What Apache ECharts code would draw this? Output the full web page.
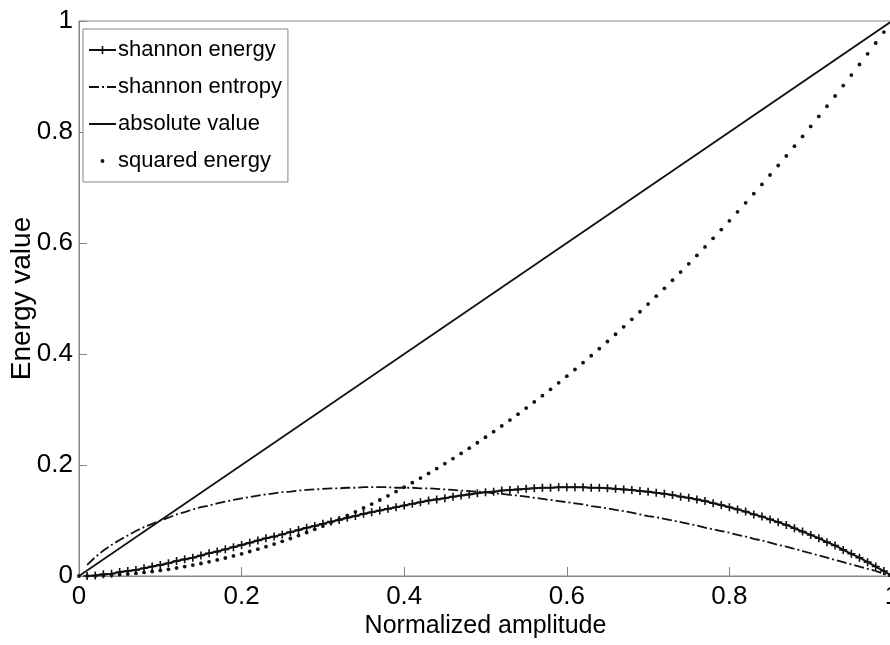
<!DOCTYPE html>
<html>
<head>
<meta charset="utf-8">
<script src="https://cdn.jsdelivr.net/npm/echarts@6/dist/echarts.min.js"></script>
<style>html,body{margin:0;padding:0;background:#fff;}#c{width:890px;height:645px;}</style>
</head>
<body>
<div id="c"></div>
<script>
// Normalized amplitude samples (x)
var amplitude = [0,0.01,0.02,0.03,0.04,0.05,0.06,0.07,0.08,0.09,0.10,
0.11,0.12,0.13,0.14,0.15,0.16,0.17,0.18,0.19,0.20,
0.21,0.22,0.23,0.24,0.25,0.26,0.27,0.28,0.29,0.30,
0.31,0.32,0.33,0.34,0.35,0.36,0.37,0.38,0.39,0.40,
0.41,0.42,0.43,0.44,0.45,0.46,0.47,0.48,0.49,0.50,
0.51,0.52,0.53,0.54,0.55,0.56,0.57,0.58,0.59,0.60,
0.61,0.62,0.63,0.64,0.65,0.66,0.67,0.68,0.69,0.70,
0.71,0.72,0.73,0.74,0.75,0.76,0.77,0.78,0.79,0.80,
0.81,0.82,0.83,0.84,0.85,0.86,0.87,0.88,0.89,0.90,
0.91,0.92,0.93,0.94,0.95,0.96,0.97,0.98,0.99,1.00];

var shannonEnergy = [null,0.000,0.001,0.003,0.004,0.007,0.009,0.011,0.014,0.017,0.020,
0.023,0.027,0.030,0.033,0.037,0.041,0.044,0.048,0.052,0.056,
0.060,0.064,0.068,0.071,0.075,0.079,0.083,0.087,0.090,0.094,
0.098,0.101,0.105,0.108,0.112,0.115,0.118,0.121,0.124,0.127,
0.130,0.133,0.136,0.138,0.140,0.143,0.145,0.147,0.149,0.151,
0.152,0.154,0.155,0.156,0.157,0.158,0.159,0.159,0.160,0.160,
0.160,0.160,0.159,0.159,0.158,0.157,0.156,0.155,0.153,0.152,
0.150,0.148,0.146,0.143,0.141,0.138,0.135,0.131,0.128,0.124,
0.120,0.116,0.111,0.107,0.102,0.097,0.092,0.086,0.080,0.074,
0.068,0.061,0.055,0.047,0.040,0.033,0.025,0.017,0.009,0.000];

var shannonEntropy = [null,0.020,0.034,0.046,0.056,0.065,0.073,0.081,0.088,0.094,0.100,
0.105,0.111,0.115,0.120,0.124,0.127,0.131,0.134,0.137,0.140,
0.142,0.145,0.147,0.149,0.151,0.152,0.154,0.155,0.156,0.157,
0.158,0.158,0.159,0.159,0.160,0.160,0.160,0.160,0.159,0.159,
0.159,0.158,0.158,0.157,0.156,0.155,0.154,0.153,0.152,0.151,
0.149,0.148,0.146,0.145,0.143,0.141,0.139,0.137,0.135,0.133,
0.131,0.129,0.126,0.124,0.122,0.119,0.117,0.114,0.111,0.108,
0.106,0.103,0.100,0.097,0.094,0.091,0.087,0.084,0.081,0.078,
0.074,0.071,0.067,0.064,0.060,0.056,0.053,0.049,0.045,0.041,
0.037,0.033,0.029,0.025,0.021,0.017,0.013,0.009,0.004,0.000];

var squaredEnergy = [0,0.0001,0.0004,0.0009,0.0016,0.0025,0.0036,0.0049,0.0064,0.0081,0.01,
0.0121,0.0144,0.0169,0.0196,0.0225,0.0256,0.0289,0.0324,0.0361,0.04,
0.0441,0.0484,0.0529,0.0576,0.0625,0.0676,0.0729,0.0784,0.0841,0.09,
0.0961,0.1024,0.1089,0.1156,0.1225,0.1296,0.1369,0.1444,0.1521,0.16,
0.1681,0.1764,0.1849,0.1936,0.2025,0.2116,0.2209,0.2304,0.2401,0.25,
0.2601,0.2704,0.2809,0.2916,0.3025,0.3136,0.3249,0.3364,0.3481,0.36,
0.3721,0.3844,0.3969,0.4096,0.4225,0.4356,0.4489,0.4624,0.4761,0.49,
0.5041,0.5184,0.5329,0.5476,0.5625,0.5776,0.5929,0.6084,0.6241,0.64,
0.6561,0.6724,0.6889,0.7056,0.7225,0.7396,0.7569,0.7744,0.7921,0.81,
0.8281,0.8464,0.8649,0.8836,0.9025,0.9216,0.9409,0.9604,0.9801,1];

var absoluteAmplitude = [0, 1];
var absoluteValue = [0, 1];

var seriesNames = ['shannon energy', 'shannon entropy', 'absolute value', 'squared energy'];
var xAxisTitle = 'Normalized amplitude';
var yAxisTitle = 'Energy value';

function pairs(xs, ys) {
  var out = [];
  for (var i = 0; i < xs.length; i++) out.push([xs[i], ys[i]]);
  return out;
}

var font = "'Liberation Sans',Arial,sans-serif";
var ink = '#000';
var lineInk = '#111';
var axisGray = '#858585';

var chart = echarts.init(document.getElementById('c'), null, {renderer: 'canvas'});
chart.setOption({
  animation: false,
  backgroundColor: '#fff',
  grid: {
    left: 79, right: -2, top: 21, bottom: 69,
    containLabel: false, outerBoundsMode: 'none',
    show: true, borderColor: axisGray, borderWidth: 1, backgroundColor: 'transparent'
  },
  legend: {
    orient: 'vertical',
    left: 83, top: 29,
    padding: [6, 6, 6, 5],
    itemWidth: 27, itemHeight: 10, itemGap: 7,
    backgroundColor: '#fff',
    borderColor: axisGray, borderWidth: 1,
    textStyle: {fontFamily: font, fontSize: 22, color: ink, lineHeight: 30, padding: [0, 0, 0, -3]},
    data: [
      {name: seriesNames[0]},
      {name: seriesNames[1], itemStyle: {opacity: 0}},
      {name: seriesNames[2], itemStyle: {opacity: 0}},
      {name: seriesNames[3], icon: 'path://M0,0h0.01v0.01h-0.01z M26.99,9.99h0.01v0.01h-0.01z M15.4,5a1.9,1.9 0 1,1 -3.8,0a1.9,1.9 0 1,1 3.8,0z'}
    ]
  },
  xAxis: {
    type: 'value', min: 0, max: 1, interval: 0.2,
    name: xAxisTitle, nameLocation: 'middle', nameGap: 38, nameMoveOverlap: false,
    nameTextStyle: {fontFamily: font, fontSize: 25, color: ink},
    axisLine: {show: true, lineStyle: {color: axisGray, width: 1}},
    axisTick: {show: true, inside: true, length: 9, lineStyle: {color: axisGray}},
    axisLabel: {fontFamily: font, fontSize: 26, color: ink, margin: 8},
    splitLine: {show: false}
  },
  yAxis: {
    type: 'value', min: 0, max: 1, interval: 0.2,
    name: yAxisTitle, nameLocation: 'middle', nameGap: 43, nameMoveOverlap: false,
    nameTextStyle: {fontFamily: font, fontSize: 28, color: ink},
    axisLine: {show: true, lineStyle: {color: axisGray, width: 1}},
    axisTick: {show: true, inside: true, length: 8, lineStyle: {color: axisGray}},
    axisLabel: {fontFamily: font, fontSize: 26, color: ink, margin: 6},
    splitLine: {show: false}
  },
  series: [
    {
      name: seriesNames[0], type: 'line', data: pairs(amplitude, shannonEnergy),
      symbol: 'path://M4,0H6V4H10V6H6V10H4V6H0V4H4Z',
      symbolSize: 8, showSymbol: true, showAllSymbol: true,
      lineStyle: {color: lineInk, width: 2},
      itemStyle: {color: lineInk, opacity: 1},
      z: 4
    },
    {
      name: seriesNames[1], type: 'line', data: pairs(amplitude, shannonEntropy),
      symbol: 'none',
      lineStyle: {color: lineInk, width: 1.8, type: [10, 3, 2, 3]},
      itemStyle: {color: lineInk},
      z: 3
    },
    {
      name: seriesNames[2], type: 'line', data: pairs(absoluteAmplitude, absoluteValue),
      symbol: 'none',
      lineStyle: {color: lineInk, width: 1.7},
      itemStyle: {color: lineInk},
      z: 3
    },
    {
      name: seriesNames[3], type: 'scatter', data: pairs(amplitude, squaredEnergy),
      symbol: 'circle', symbolSize: 3.8,
      itemStyle: {color: lineInk, opacity: 1},
      z: 2
    }
  ]
});
</script>
</body>
</html>
